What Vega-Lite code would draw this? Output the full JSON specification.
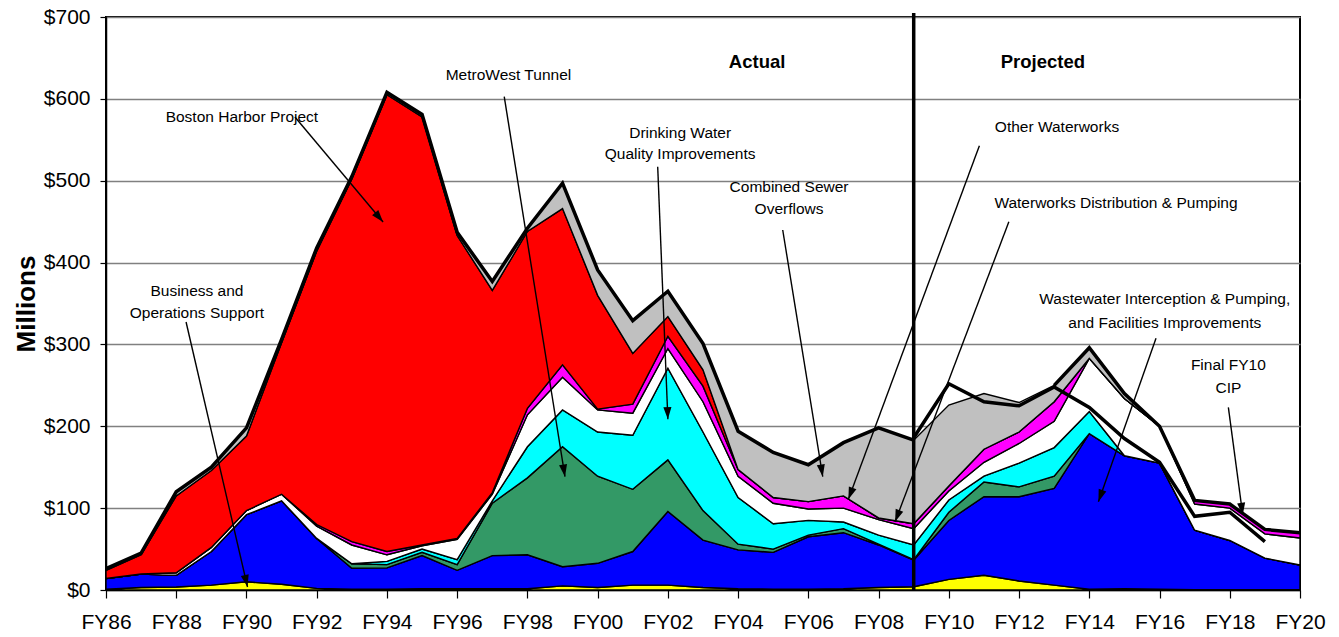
{
  "$schema": "https://vega.github.io/schema/vega-lite/v6.json",
  "autosize": "none",
  "width": 1194,
  "height": 573,
  "padding": {"left": 106, "top": 17, "right": 39, "bottom": 47},
  "background": "white",
  "config": {
    "view": {"stroke": "black", "strokeWidth": 2},
    "axis": {
      "labelFont": "Liberation Sans, Arial, sans-serif",
      "labelFontSize": 21,
      "labelColor": "black",
      "domainColor": "black",
      "domainWidth": 1.5,
      "tickColor": "black",
      "tickWidth": 1.2
    }
  },
  "datasets": {
    "series": [
      {"series": "Business", "rank": 1},
      {"series": "Wastewater", "rank": 2},
      {"series": "MetroWest", "rank": 3},
      {"series": "DrinkingWater", "rank": 4},
      {"series": "WaterworksDist", "rank": 5},
      {"series": "OtherWaterworks", "rank": 6},
      {"series": "BostonHarbor", "rank": 7},
      {"series": "CSO", "rank": 8}
    ],
    "spending": [
      {"year": 1986, "Business": 1, "Wastewater": 13, "MetroWest": 0, "DrinkingWater": 0, "WaterworksDist": 0, "OtherWaterworks": 0, "BostonHarbor": 10, "CSO": 2},
      {"year": 1987, "Business": 3, "Wastewater": 16.5, "MetroWest": 0, "DrinkingWater": 0, "WaterworksDist": 0, "OtherWaterworks": 0, "BostonHarbor": 23.5, "CSO": 2},
      {"year": 1988, "Business": 3.7, "Wastewater": 14.3, "MetroWest": 0, "DrinkingWater": 0, "WaterworksDist": 3, "OtherWaterworks": 0, "BostonHarbor": 94, "CSO": 5},
      {"year": 1989, "Business": 6, "Wastewater": 41, "MetroWest": 0, "DrinkingWater": 0, "WaterworksDist": 5, "OtherWaterworks": 0, "BostonHarbor": 94, "CSO": 4},
      {"year": 1990, "Business": 10, "Wastewater": 82, "MetroWest": 0, "DrinkingWater": 0, "WaterworksDist": 5, "OtherWaterworks": 0, "BostonHarbor": 91, "CSO": 10},
      {"year": 1991, "Business": 7, "Wastewater": 102, "MetroWest": 0, "DrinkingWater": 0, "WaterworksDist": 8, "OtherWaterworks": 0, "BostonHarbor": 185, "CSO": 4},
      {"year": 1992, "Business": 2, "Wastewater": 61, "MetroWest": 0, "DrinkingWater": 0, "WaterworksDist": 15, "OtherWaterworks": 2, "BostonHarbor": 334, "CSO": 4},
      {"year": 1993, "Business": 1, "Wastewater": 25.5, "MetroWest": 5.5, "DrinkingWater": 0, "WaterworksDist": 23, "OtherWaterworks": 4, "BostonHarbor": 443, "CSO": 3},
      {"year": 1994, "Business": 1, "Wastewater": 26, "MetroWest": 4, "DrinkingWater": 4, "WaterworksDist": 8, "OtherWaterworks": 4, "BostonHarbor": 558, "CSO": 3},
      {"year": 1995, "Business": 1.5, "Wastewater": 40.5, "MetroWest": 4, "DrinkingWater": 4, "WaterworksDist": 4, "OtherWaterworks": 1, "BostonHarbor": 523, "CSO": 3},
      {"year": 1996, "Business": 1.5, "Wastewater": 22.5, "MetroWest": 7, "DrinkingWater": 6, "WaterworksDist": 25, "OtherWaterworks": 1, "BostonHarbor": 370, "CSO": 4},
      {"year": 1997, "Business": 1.5, "Wastewater": 40.5, "MetroWest": 64, "DrinkingWater": 3, "WaterworksDist": 8, "OtherWaterworks": 2, "BostonHarbor": 247, "CSO": 11},
      {"year": 1998, "Business": 1.5, "Wastewater": 41.5, "MetroWest": 94, "DrinkingWater": 38, "WaterworksDist": 39, "OtherWaterworks": 8, "BostonHarbor": 216, "CSO": 4},
      {"year": 1999, "Business": 5, "Wastewater": 23.5, "MetroWest": 146.5, "DrinkingWater": 45, "WaterworksDist": 40, "OtherWaterworks": 15, "BostonHarbor": 191, "CSO": 31},
      {"year": 2000, "Business": 3, "Wastewater": 29.6, "MetroWest": 106.4, "DrinkingWater": 54, "WaterworksDist": 27, "OtherWaterworks": 1, "BostonHarbor": 139, "CSO": 31},
      {"year": 2001, "Business": 6, "Wastewater": 41, "MetroWest": 76, "DrinkingWater": 66, "WaterworksDist": 27, "OtherWaterworks": 11, "BostonHarbor": 62, "CSO": 40},
      {"year": 2002, "Business": 6, "Wastewater": 90, "MetroWest": 63, "DrinkingWater": 112, "WaterworksDist": 24, "OtherWaterworks": 15, "BostonHarbor": 24, "CSO": 31},
      {"year": 2003, "Business": 3, "Wastewater": 58, "MetroWest": 36, "DrinkingWater": 96, "WaterworksDist": 37, "OtherWaterworks": 19, "BostonHarbor": 20, "CSO": 32},
      {"year": 2004, "Business": 1.5, "Wastewater": 47.5, "MetroWest": 7, "DrinkingWater": 57, "WaterworksDist": 26, "OtherWaterworks": 8, "BostonHarbor": 0, "CSO": 47},
      {"year": 2005, "Business": 1, "Wastewater": 45, "MetroWest": 4, "DrinkingWater": 31, "WaterworksDist": 25, "OtherWaterworks": 7, "BostonHarbor": 0, "CSO": 55},
      {"year": 2006, "Business": 1, "Wastewater": 64, "MetroWest": 2, "DrinkingWater": 18, "WaterworksDist": 14, "OtherWaterworks": 9, "BostonHarbor": 0, "CSO": 45},
      {"year": 2007, "Business": 1.5, "Wastewater": 68.5, "MetroWest": 5, "DrinkingWater": 8, "WaterworksDist": 17, "OtherWaterworks": 15, "BostonHarbor": 0, "CSO": 65},
      {"year": 2008, "Business": 3, "Wastewater": 52, "MetroWest": 1, "DrinkingWater": 11, "WaterworksDist": 19, "OtherWaterworks": 2, "BostonHarbor": 0, "CSO": 110},
      {"year": 2009, "Business": 4, "Wastewater": 32.6, "MetroWest": 0.4, "DrinkingWater": 18, "WaterworksDist": 20, "OtherWaterworks": 6, "BostonHarbor": 0, "CSO": 102},
      {"year": 2010, "Business": 13, "Wastewater": 72, "MetroWest": 10, "DrinkingWater": 15, "WaterworksDist": 11, "OtherWaterworks": 6, "BostonHarbor": 0, "CSO": 99},
      {"year": 2011, "Business": 18, "Wastewater": 96, "MetroWest": 18, "DrinkingWater": 7, "WaterworksDist": 17, "OtherWaterworks": 16, "BostonHarbor": 0, "CSO": 68},
      {"year": 2012, "Business": 11, "Wastewater": 103, "MetroWest": 12, "DrinkingWater": 29, "WaterworksDist": 24, "OtherWaterworks": 14, "BostonHarbor": 0, "CSO": 36},
      {"year": 2013, "Business": 6, "Wastewater": 118, "MetroWest": 15, "DrinkingWater": 35, "WaterworksDist": 32, "OtherWaterworks": 24, "BostonHarbor": 0, "CSO": 20},
      {"year": 2014, "Business": 1, "Wastewater": 190, "MetroWest": 0, "DrinkingWater": 27, "WaterworksDist": 65, "OtherWaterworks": 0, "BostonHarbor": 0, "CSO": 13},
      {"year": 2015, "Business": 1.5, "Wastewater": 162.5, "MetroWest": 0, "DrinkingWater": 0, "WaterworksDist": 70, "OtherWaterworks": 0, "BostonHarbor": 0, "CSO": 6},
      {"year": 2016, "Business": 1, "Wastewater": 154, "MetroWest": 0, "DrinkingWater": 0, "WaterworksDist": 45, "OtherWaterworks": 0, "BostonHarbor": 0, "CSO": 0},
      {"year": 2017, "Business": 0.5, "Wastewater": 72.5, "MetroWest": 0, "DrinkingWater": 0, "WaterworksDist": 32, "OtherWaterworks": 4.5, "BostonHarbor": 0, "CSO": 0},
      {"year": 2018, "Business": 0.5, "Wastewater": 60, "MetroWest": 0, "DrinkingWater": 0, "WaterworksDist": 39.5, "OtherWaterworks": 5, "BostonHarbor": 0, "CSO": 0},
      {"year": 2019, "Business": 0.5, "Wastewater": 38.5, "MetroWest": 0, "DrinkingWater": 0, "WaterworksDist": 29.5, "OtherWaterworks": 5.5, "BostonHarbor": 0, "CSO": 0},
      {"year": 2020, "Business": 0.5, "Wastewater": 30, "MetroWest": 0, "DrinkingWater": 0, "WaterworksDist": 33, "OtherWaterworks": 6.5, "BostonHarbor": 0, "CSO": 0}
    ],
    "finalcip": [
      {"year": 2009, "value": 186},
      {"year": 2010, "value": 252},
      {"year": 2011, "value": 230},
      {"year": 2012, "value": 225},
      {"year": 2013, "value": 248},
      {"year": 2014, "value": 223},
      {"year": 2015, "value": 185},
      {"year": 2016, "value": 156},
      {"year": 2017, "value": 90},
      {"year": 2018, "value": 95},
      {"year": 2019, "value": 59}
    ],
    "arrows": [
      {"label": "Boston Harbor Project", "year": 1991.38, "value": 577.8, "year2": 1993.89, "value2": 449.6},
      {"label": "Business and Operations Support", "year": 1988.28, "value": 327.4, "year2": 1990.03, "value2": 3.7},
      {"label": "MetroWest Tunnel", "year": 1997.34, "value": 602.6, "year2": 1999.07, "value2": 138.4},
      {"label": "Drinking Water Quality Improvements", "year": 2001.71, "value": 517.1, "year2": 2002.0, "value2": 208.5},
      {"label": "Combined Sewer Overflows", "year": 2005.27, "value": 439.8, "year2": 2006.41, "value2": 138.4},
      {"label": "Other Waterworks", "year": 2010.87, "value": 542.8, "year2": 2007.14, "value2": 110.8},
      {"label": "Waterworks Distribution & Pumping", "year": 2011.71, "value": 449.9, "year2": 2008.47, "value2": 83.4},
      {"label": "Wastewater Interception & Pumping, and Facilities Improvements", "year": 2015.9, "value": 307.5, "year2": 2014.26, "value2": 107.9},
      {"label": "Final FY10 CIP", "year": 2017.96, "value": 223.2, "year2": 2018.37, "value2": 91.6}
    ],
    "labels": [
      {"text": "Boston Harbor Project", "year": 1989.87, "value": 578.2},
      {"text": "Business and", "year": 1988.59, "value": 365.3},
      {"text": "Operations Support", "year": 1988.59, "value": 338.4},
      {"text": "MetroWest Tunnel", "year": 1997.46, "value": 629.1},
      {"text": "Drinking Water", "year": 2002.35, "value": 558.3},
      {"text": "Quality Improvements", "year": 2002.35, "value": 532.3},
      {"text": "Combined Sewer", "year": 2005.45, "value": 492},
      {"text": "Overflows", "year": 2005.45, "value": 465.5},
      {"text": "Other Waterworks", "year": 2013.08, "value": 565.3},
      {"text": "Waterworks Distribution & Pumping", "year": 2014.76, "value": 472.4},
      {"text": "Wastewater Interception & Pumping,", "year": 2016.15, "value": 355.5},
      {"text": "and Facilities Improvements", "year": 2016.15, "value": 326.5},
      {"text": "Final FY10", "year": 2017.96, "value": 274.9},
      {"text": "CIP", "year": 2017.96, "value": 246.4}
    ],
    "periods": [
      {"text": "Actual", "year": 2004.54, "value": 645},
      {"text": "Projected", "year": 2012.68, "value": 645}
    ],
    "divider": [
      {"year": 2009, "value": 0, "value2": 705}
    ]
  },
  "layer": [
    {
      "data": {"name": "spending"},
      "transform": [
        {"fold": ["Business", "Wastewater", "MetroWest", "DrinkingWater", "WaterworksDist", "OtherWaterworks", "BostonHarbor", "CSO"], "as": ["series", "value"]},
        {"lookup": "series", "from": {"data": {"name": "series"}, "key": "series", "fields": ["rank"]}}
      ],
      "mark": {"type": "area", "stroke": "black", "strokeWidth": 1.4, "strokeJoin": "miter", "opacity": 1},
      "encoding": {
        "x": {
          "field": "year", "type": "quantitative",
          "scale": {"domain": [1986, 2020], "nice": false, "zero": false},
          "title": null,
          "axis": {
            "values": [1986, 1987, 1988, 1989, 1990, 1991, 1992, 1993, 1994, 1995, 1996, 1997, 1998, 1999, 2000, 2001, 2002, 2003, 2004, 2005, 2006, 2007, 2008, 2009, 2010, 2011, 2012, 2013, 2014, 2015, 2016, 2017, 2018, 2019, 2020],
            "labelExpr": "datum.value % 2 == 0 ? 'FY' + substring(toString(datum.value), 2, 4) : ''",
            "grid": false,
            "tickSize": 8,
            "labelPadding": 13,
            "labelOverlap": false,
            "labelFlush": false
          }
        },
        "y": {
          "field": "value", "type": "quantitative", "stack": "zero",
          "scale": {"domain": [0, 700], "nice": false},
          "title": "Millions",
          "axis": {
            "values": [0, 100, 200, 300, 400, 500, 600, 700],
            "labelExpr": "'$' + datum.value",
            "grid": true,
            "gridColor": "#808080",
            "gridWidth": 1.3,
            "tickSize": 6,
            "labelPadding": 10,
            "titleFont": "Liberation Sans, Arial, sans-serif",
            "titleFontSize": 26,
            "titleFontWeight": "bold",
            "titleColor": "black",
            "titlePadding": 4
          }
        },
        "color": {
          "field": "series", "type": "nominal", "legend": null,
          "scale": {
            "domain": ["Business", "Wastewater", "MetroWest", "DrinkingWater", "WaterworksDist", "OtherWaterworks", "BostonHarbor", "CSO"],
            "range": ["#FFFF00", "#0000FF", "#339966", "#00FFFF", "#FFFFFF", "#FF00FF", "#FF0000", "#C0C0C0"]
          }
        },
        "order": {"field": "rank", "type": "quantitative", "sort": "ascending"}
      }
    },
    {
      "data": {"name": "spending"},
      "transform": [
        {"filter": "datum.year <= 2009"},
        {"fold": ["Business", "Wastewater", "MetroWest", "DrinkingWater", "WaterworksDist", "OtherWaterworks", "BostonHarbor", "CSO"], "as": ["series", "value"]}
      ],
      "mark": {"type": "line", "color": "black", "strokeWidth": 3.5, "strokeJoin": "miter"},
      "encoding": {
        "x": {"field": "year", "type": "quantitative", "title": null},
        "y": {"aggregate": "sum", "field": "value", "type": "quantitative", "title": "Millions"}
      }
    },
    {
      "data": {"name": "spending"},
      "transform": [
        {"filter": "datum.year >= 2013"},
        {"fold": ["Business", "Wastewater", "MetroWest", "DrinkingWater", "WaterworksDist", "OtherWaterworks", "BostonHarbor", "CSO"], "as": ["series", "value"]}
      ],
      "mark": {"type": "line", "color": "black", "strokeWidth": 3.5, "strokeJoin": "miter"},
      "encoding": {
        "x": {"field": "year", "type": "quantitative", "title": null},
        "y": {"aggregate": "sum", "field": "value", "type": "quantitative", "title": "Millions"}
      }
    },
    {
      "data": {"name": "finalcip"},
      "mark": {"type": "line", "color": "black", "strokeWidth": 3.5, "strokeJoin": "miter"},
      "encoding": {
        "x": {"field": "year", "type": "quantitative", "title": null},
        "y": {"field": "value", "type": "quantitative", "title": "Millions"}
      }
    },
    {
      "data": {"name": "divider"},
      "mark": {"type": "rule", "color": "black", "strokeWidth": 3.5},
      "encoding": {
        "x": {"field": "year", "type": "quantitative", "title": null},
        "y": {"field": "value", "type": "quantitative", "title": "Millions"},
        "y2": {"field": "value2"}
      }
    },
    {
      "data": {"name": "arrows"},
      "mark": {"type": "rule", "color": "black", "strokeWidth": 1.4},
      "encoding": {
        "x": {"field": "year", "type": "quantitative", "title": null},
        "y": {"field": "value", "type": "quantitative", "title": "Millions"},
        "x2": {"field": "year2"},
        "y2": {"field": "value2"}
      }
    },
    {
      "data": {"name": "arrows"},
      "mark": {"type": "point", "shape": "M0,0L-0.33,1L0.33,1Z", "filled": true, "color": "black", "opacity": 1, "size": 600, "strokeWidth": 0},
      "encoding": {
        "x": {"field": "year2", "type": "quantitative", "title": null},
        "y": {"field": "value2", "type": "quantitative", "title": "Millions"},
        "angle": {
          "field": "label", "type": "nominal", "legend": null,
          "scale": {
            "type": "ordinal",
            "domain": ["Boston Harbor Project", "Business and Operations Support", "MetroWest Tunnel", "Drinking Water Quality Improvements", "Combined Sewer Overflows", "Other Waterworks", "Waterworks Distribution & Pumping", "Wastewater Interception & Pumping, and Facilities Improvements", "Final FY10 CIP"],
            "range": [140, 166.9, 170.9, 177.7, 170.8, 200.3, 200.8, 199.5, 172.4]
          }
        }
      }
    },
    {
      "data": {"name": "labels"},
      "mark": {"type": "text", "font": "Liberation Sans, Arial, sans-serif", "fontSize": 15.5, "color": "black", "align": "center", "baseline": "middle"},
      "encoding": {
        "x": {"field": "year", "type": "quantitative", "title": null},
        "y": {"field": "value", "type": "quantitative", "title": "Millions"},
        "text": {"field": "text"}
      }
    },
    {
      "data": {"name": "periods"},
      "mark": {"type": "text", "font": "Liberation Sans, Arial, sans-serif", "fontSize": 18.5, "fontWeight": "bold", "color": "black", "align": "center", "baseline": "middle"},
      "encoding": {
        "x": {"field": "year", "type": "quantitative", "title": null},
        "y": {"field": "value", "type": "quantitative", "title": "Millions"},
        "text": {"field": "text"}
      }
    }
  ]
}
